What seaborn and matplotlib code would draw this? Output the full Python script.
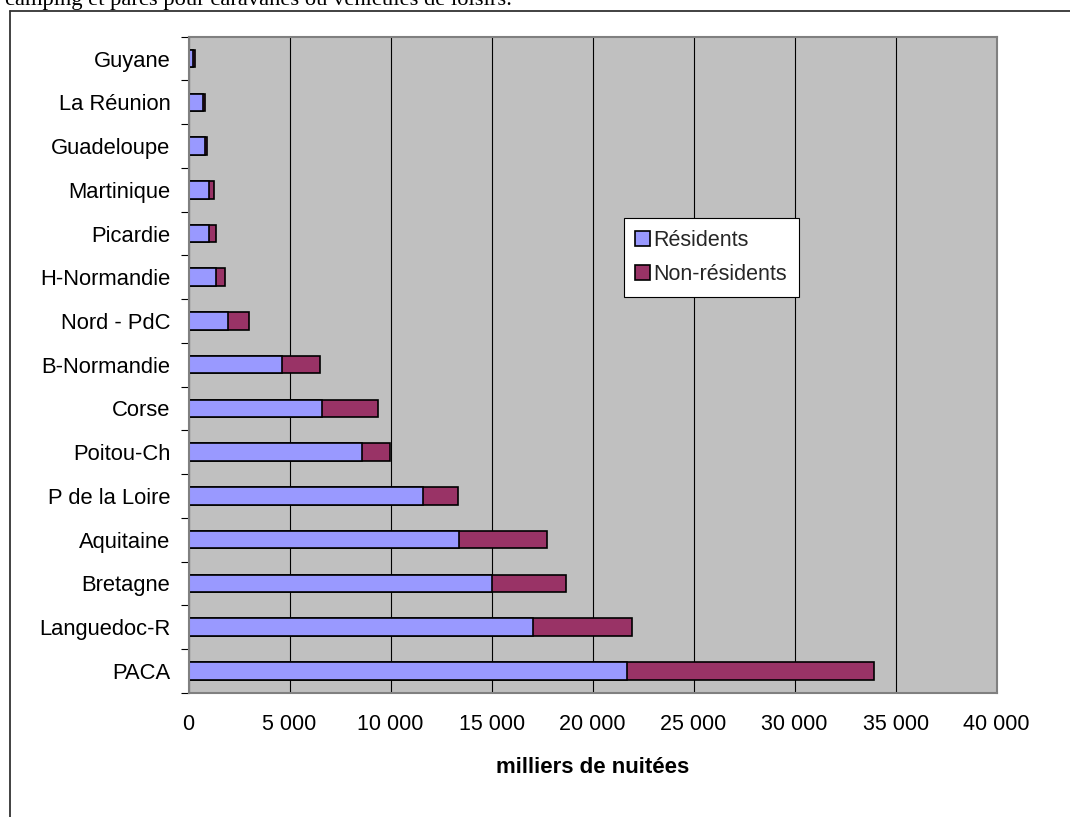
import matplotlib
matplotlib.use("Agg")
import matplotlib.pyplot as plt
from matplotlib.patches import Patch
from matplotlib.lines import Line2D
from matplotlib.ticker import FuncFormatter, FixedLocator
import numpy as np
import pandas as pd
import seaborn as sns

# Nuitées en campings (milliers), par région
regions = ["Guyane", "La Réunion", "Guadeloupe", "Martinique", "Picardie",
           "H-Normandie", "Nord - PdC", "B-Normandie", "Corse", "Poitou-Ch",
           "P de la Loire", "Aquitaine", "Bretagne", "Languedoc-R", "PACA"]
residents = [200, 740, 830, 1000, 1000, 1340, 1960, 4620, 6600, 8580,
             11600, 13400, 15030, 17030, 21680]
non_residents = [130, 100, 90, 270, 350, 460, 1030, 1900, 2770, 1390,
                 1730, 4320, 3630, 4920, 12270]
series_names = ["Résidents", "Non-résidents"]
x_ticks = [0, 5000, 10000, 15000, 20000, 25000, 30000, 35000, 40000]

df = pd.DataFrame({"region": regions,
                   "res": residents,
                   "nonres": non_residents})
df["total"] = df["res"] + df["nonres"]

sns.set_style("white")
plt.rcParams["font.family"] = ["Liberation Sans", "DejaVu Sans"]

COL_RES = "#9999FF"
COL_NON = "#993366"
BG = "#C0C0C0"

fig = plt.figure(figsize=(10.70, 8.17), dpi=100)
ax = fig.add_axes([188.5 / 1070, (817 - 692.7) / 817,
                   (996.7 - 188.5) / 1070, (692.7 - 36.7) / 817])
ax.set_facecolor(BG)

# stacked bars: total (non-residents part) behind, residents in front
sns.barplot(data=df, x="total", y="region", color=COL_NON, width=0.4,
            saturation=1, edgecolor="black", linewidth=1.2, ax=ax,
            errorbar=None)
sns.barplot(data=df, x="res", y="region", color=COL_RES, width=0.4,
            saturation=1, edgecolor="black", linewidth=1.2, ax=ax,
            errorbar=None)

ax.set_xlim(0, 40000)
ax.set_ylim(len(regions) - 0.5, -0.5)
ax.set_axisbelow(True)

# vertical gridlines
ax.xaxis.set_major_locator(FixedLocator(x_ticks))
ax.grid(axis="x", color="black", linewidth=0.8)
ax.grid(axis="y", visible=False)
ax.xaxis.set_major_formatter(
    FuncFormatter(lambda v, p: f"{int(v):,}".replace(",", " ")))
ax.tick_params(axis="x", which="major", direction="out", length=5.5,
               width=0.8, color="black", pad=10, labelsize=15.5,
               labelcolor="black")

# y ticks at category boundaries
ax.yaxis.set_minor_locator(FixedLocator(np.arange(-0.5, len(regions), 1.0)))
ax.tick_params(axis="y", which="major", length=0, pad=13, labelsize=15.8,
               labelcolor="black")
ax.tick_params(axis="y", which="minor", direction="out", length=5.5,
               width=0.8, color="black", left=True)

for side in ["top", "right", "left", "bottom"]:
    ax.spines[side].set_color("#808080")
    ax.spines[side].set_linewidth(1.5)

ax.set_ylabel("")
ax.set_xlabel("milliers de nuitées", fontsize=16, fontweight="bold",
              labelpad=16, color="black")

handles = [Patch(facecolor=COL_RES, edgecolor="black", linewidth=1.2),
           Patch(facecolor=COL_NON, edgecolor="black", linewidth=1.2)]
leg = fig.legend(handles, series_names, loc="upper left",
                 bbox_to_anchor=(623.5 / 1070, 1 - 218.5 / 817),
                 frameon=True, fancybox=False, fontsize=15.5,
                 handlelength=0.7, handleheight=0.7, handletextpad=0.15,
                 borderpad=0.55, labelspacing=0.6, borderaxespad=0)
leg.get_frame().set_edgecolor("black")
leg.get_frame().set_linewidth(0.8)
leg.get_frame().set_facecolor("white")
leg.get_frame().set_alpha(1)

# surrounding frame of the chart object
fig.add_artist(Line2D([9.5 / 1070, 9.5 / 1070], [0, 1 - 11 / 817],
                      color="#333333", linewidth=1.3))
fig.add_artist(Line2D([9.5 / 1070, 1], [1 - 11 / 817, 1 - 11 / 817],
                      color="#333333", linewidth=1.3))

# caption line above the chart
fig.text(5 / 1070, 1 - 4.5 / 817,
         "camping et parcs pour caravanes ou véhicules de loisirs.",
         family=["Liberation Serif", "DejaVu Serif"], fontsize=16.2,
         ha="left", va="baseline", color="black")

fig.savefig("out.png", dpi=100)
